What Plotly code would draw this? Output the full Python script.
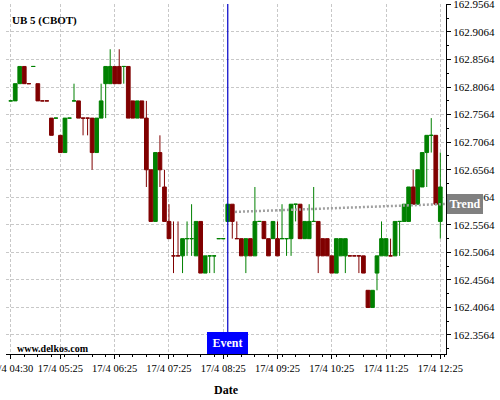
import pandas as pd
import plotly.graph_objects as go

# ---------------- data ----------------
START = "2024-04-17 04:30"
N_BARS = 96  # 5-minute bars, 04:30 .. 12:25
TIMES = list(pd.date_range(START, periods=N_BARS, freq="5min"))

OPEN = [
    162.78125, 162.78125, 162.8125, 162.84375, 162.8125, 162.84375, 162.8125, 162.78125, 162.78125, 162.75,
    162.75, 162.71875, 162.6875, 162.75, 162.78125, 162.78125, 162.75, 162.75, 162.75, 162.6875,
    162.75, 162.8125, 162.8125, 162.84375, 162.84375, 162.84375, 162.84375, 162.78125, 162.75, 162.78125,
    162.75, 162.65625, 162.5625, 162.6875, 162.625, 162.5625, 162.5, 162.5, 162.5, 162.53125,
    162.53125, 162.5, 162.5625, 162.46875, 162.5, 162.5, 162.53125, 162.53125, 162.5625, 162.59375,
    162.53125, 162.53125, 162.5, 162.53125, 162.5, 162.5625, 162.5625, 162.53125, 162.53125, 162.53125,
    162.53125, 162.53125, 162.53125, 162.59375, 162.59375, 162.53125, 162.53125, 162.5625, 162.5625, 162.53125,
    162.53125, 162.5, 162.46875, 162.5, 162.5, 162.5, 162.5, 162.5, 162.5, 162.4375,
    162.40625, 162.46875, 162.5, 162.5, 162.5, 162.5, 162.5625, 162.5625, 162.5625, 162.625,
    162.59375, 162.625, 162.6875, 162.71875, 162.71875, 162.5625,
]
HIGH = [
    162.78125, 162.8125, 162.84375, 162.84375, 162.8125, 162.84375, 162.8125, 162.78125, 162.78125, 162.75,
    162.75, 162.71875, 162.75, 162.75, 162.8125, 162.78125, 162.75, 162.75, 162.75, 162.75,
    162.8125, 162.84375, 162.875, 162.84375, 162.875, 162.84375, 162.84375, 162.78125, 162.78125, 162.78125,
    162.78125, 162.65625, 162.6875, 162.71875, 162.65625, 162.59375, 162.5625, 162.5625, 162.53125, 162.5625,
    162.59375, 162.5625, 162.5625, 162.5, 162.5, 162.5, 162.53125, 162.53125, 162.59375, 162.59375,
    162.5625, 162.53125, 162.53125, 162.53125, 162.625, 162.5625, 162.5625, 162.53125, 162.5625, 162.5625,
    162.59375, 162.53125, 162.59375, 162.59375, 162.59375, 162.5625, 162.59375, 162.625, 162.5625, 162.53125,
    162.53125, 162.5, 162.53125, 162.53125, 162.53125, 162.5, 162.5, 162.5, 162.5, 162.4375,
    162.4375, 162.5, 162.5625, 162.53125, 162.53125, 162.5625, 162.5625, 162.59375, 162.625, 162.65625,
    162.65625, 162.6875, 162.71875, 162.75, 162.71875, 162.6875,
]
LOW = [
    162.78125, 162.78125, 162.8125, 162.8125, 162.8125, 162.84375, 162.78125, 162.78125, 162.78125, 162.71875,
    162.75, 162.6875, 162.6875, 162.75, 162.78125, 162.75, 162.71875, 162.71875, 162.65625, 162.6875,
    162.75, 162.75, 162.8125, 162.8125, 162.8125, 162.8125, 162.75, 162.75, 162.75, 162.75,
    162.625, 162.5625, 162.5625, 162.625, 162.5625, 162.53125, 162.46875, 162.5, 162.46875, 162.5,
    162.5, 162.5, 162.46875, 162.46875, 162.46875, 162.46875, 162.53125, 162.53125, 162.5625, 162.53125,
    162.53125, 162.5, 162.46875, 162.5, 162.5, 162.5625, 162.53125, 162.5, 162.53125, 162.5,
    162.53125, 162.5, 162.5, 162.5625, 162.53125, 162.53125, 162.53125, 162.5625, 162.46875, 162.5,
    162.5, 162.46875, 162.46875, 162.5, 162.46875, 162.5, 162.5, 162.46875, 162.46875, 162.40625,
    162.40625, 162.4375, 162.5, 162.5, 162.5, 162.5, 162.5, 162.5625, 162.5625, 162.59375,
    162.59375, 162.625, 162.625, 162.6875, 162.59375, 162.53125,
]
CLOSE = [
    162.78125, 162.8125, 162.84375, 162.8125, 162.8125, 162.84375, 162.78125, 162.78125, 162.78125, 162.71875,
    162.75, 162.6875, 162.75, 162.75, 162.78125, 162.75, 162.75, 162.75, 162.6875, 162.75,
    162.78125, 162.84375, 162.84375, 162.8125, 162.8125, 162.84375, 162.75, 162.75, 162.78125, 162.75,
    162.65625, 162.5625, 162.6875, 162.65625, 162.5625, 162.53125, 162.5, 162.5, 162.53125, 162.53125,
    162.53125, 162.5625, 162.46875, 162.5, 162.5, 162.5, 162.53125, 162.53125, 162.59375, 162.5625,
    162.53125, 162.5, 162.53125, 162.5, 162.5625, 162.5625, 162.53125, 162.5, 162.5625, 162.5,
    162.53125, 162.53125, 162.59375, 162.59375, 162.53125, 162.5625, 162.5625, 162.5625, 162.5, 162.5,
    162.5, 162.46875, 162.53125, 162.53125, 162.53125, 162.5, 162.5, 162.5, 162.46875, 162.40625,
    162.4375, 162.5, 162.53125, 162.53125, 162.5, 162.5625, 162.5625, 162.59375, 162.625, 162.59375,
    162.65625, 162.6875, 162.71875, 162.71875, 162.59375, 162.625,
]
# bar colour as drawn (G = green / up, R = red / down), incl. doji bars
DIRECTION = (
    "GGGRRGRRRR" "GRGGGRRRRG" "GGGRRGRRGR" "RRGRRRRRGG" "GGRGGGGGGR"
    "RRGRGGRRGR" "GGGGRGGGRR" "RRGGGRRRRR" "GGGGRGGGGR" "GGGGRG"
)

EVENT_TIME = "2024-04-17 08:30"
TREND_X = ["2024-04-17 08:38", "2024-04-17 12:31:18"]
TREND_Y = [162.5798, 162.5942]

X_TICKS = ["2024-04-17 04:30", "2024-04-17 05:25", "2024-04-17 06:25", "2024-04-17 07:25",
           "2024-04-17 08:25", "2024-04-17 09:25", "2024-04-17 10:25", "2024-04-17 11:25",
           "2024-04-17 12:25"]
X_LABELS = ["17/4 04:30", "17/4 05:25", "17/4 06:25", "17/4 07:25", "17/4 08:25",
            "17/4 09:25", "17/4 10:25", "17/4 11:25", "17/4 12:25"]
Y_TICKS = [162.3564, 162.4064, 162.4564, 162.5064, 162.5564, 162.6064, 162.6564,
           162.7064, 162.7564, 162.8064, 162.8564, 162.9064, 162.9564]
Y_LABELS = ["162.3564", "162.4064", "162.4564", "162.5064", "162.5564", "162.6064", "162.6564",
            "162.7064", "162.7564", "162.8064", "162.8564", "162.9064", "162.9564"]

X_RANGE = ["2024-04-17 04:24:48", "2024-04-17 12:31:18"]
Y_RANGE = [162.3219, 162.9571]

FONT = "Liberation Serif, Times New Roman, serif"
GREEN = "#008000"
RED = "#800000"

# ---------------- figure ----------------
fig = go.Figure()
for flag, color in (("G", GREEN), ("R", RED)):
    idx = [i for i, d in enumerate(DIRECTION) if d == flag]
    style = dict(line=dict(color=color, width=1), fillcolor=color)
    fig.add_trace(go.Candlestick(
        x=[TIMES[i] for i in idx],
        open=[OPEN[i] for i in idx],
        high=[HIGH[i] for i in idx],
        low=[LOW[i] for i in idx],
        close=[CLOSE[i] for i in idx],
        increasing=style, decreasing=style,
        whiskerwidth=0, showlegend=False,
    ))

fig.add_trace(go.Scatter(
    x=TREND_X, y=TREND_Y, mode="lines",
    line=dict(color="#a0a0a0", width=2.5, dash="2px,2px"),
    showlegend=False, hoverinfo="skip",
))

fig.add_shape(type="line", xref="x", yref="paper", x0=EVENT_TIME, x1=EVENT_TIME,
              y0=0, y1=1, line=dict(color="#0000c8", width=1.2))

fig.add_annotation(text="<b>Event</b>", xref="x", yref="paper", x=EVENT_TIME, y=0,
                   xanchor="center", yanchor="bottom", showarrow=False,
                   bgcolor="#0000ff", bordercolor="#0000ff", borderwidth=1, borderpad=0,
                   width=39, height=20, font=dict(family=FONT, size=12, color="white"))

fig.add_annotation(text="<b>Trend</b>", xref="paper", yref="y", x=1, y=TREND_Y[-1],
                   xanchor="left", yanchor="middle", xshift=1, showarrow=False,
                   bgcolor="#808080", bordercolor="#808080", borderwidth=1, borderpad=0,
                   width=34, height=18, font=dict(family=FONT, size=12, color="white"))

fig.add_annotation(text="<b>UB 5 (CBOT)</b>", xref="paper", yref="paper", x=0.009, y=0.952,
                   xanchor="left", yanchor="middle", showarrow=False,
                   font=dict(family=FONT, size=11, color="black"))

fig.add_annotation(text="<b>www.delkos.com</b>", xref="paper", yref="paper", x=0.0205, y=0.015,
                   xanchor="left", yanchor="middle", showarrow=False,
                   font=dict(family=FONT, size=10, color="black"))

grid = dict(showgrid=True, gridcolor="#c8c8c8", gridwidth=1, griddash="3px,2px")

fig.update_layout(
    width=500, height=400,
    margin=dict(l=6, r=54, t=4, b=46),
    paper_bgcolor="white", plot_bgcolor="white",
    font=dict(family=FONT, size=11, color="black"),
    boxgap=0.18, boxgroupgap=0,
    showlegend=False,
    xaxis=dict(
        type="date", range=X_RANGE, tickvals=X_TICKS, ticktext=X_LABELS,
        tickangle=0, automargin=False,
        showline=True, linecolor="black", linewidth=1, mirror=False,
        ticks="outside", ticklen=4, tickcolor="black", ticklabeloverflow="allow",
        tickfont=dict(family=FONT, size=10.5),
        minor=dict(ticks="outside", ticklen=2, tickcolor="black",
                   dtick=15 * 60 * 1000, tick0="2024-04-17 04:30", showgrid=False),
        rangeslider=dict(visible=False),
        title=dict(text="<b>Date</b>", font=dict(family=FONT, size=12), standoff=13),
        zeroline=False, **grid,
    ),
    yaxis=dict(
        side="right", range=Y_RANGE, tickvals=Y_TICKS, ticktext=Y_LABELS,
        automargin=False,
        showline=True, linecolor="black", linewidth=1,
        ticks="outside", ticklen=4, tickcolor="black", ticklabeloverflow="allow",
        minor=dict(ticks="outside", ticklen=2, tickcolor="black",
                   dtick=0.025, tick0=162.3564, showgrid=False),
        zeroline=False, **grid,
    ),
)

fig.write_html("out.html", config={"displayModeBar": False},
               post_script="document.body.style.margin='0';")
